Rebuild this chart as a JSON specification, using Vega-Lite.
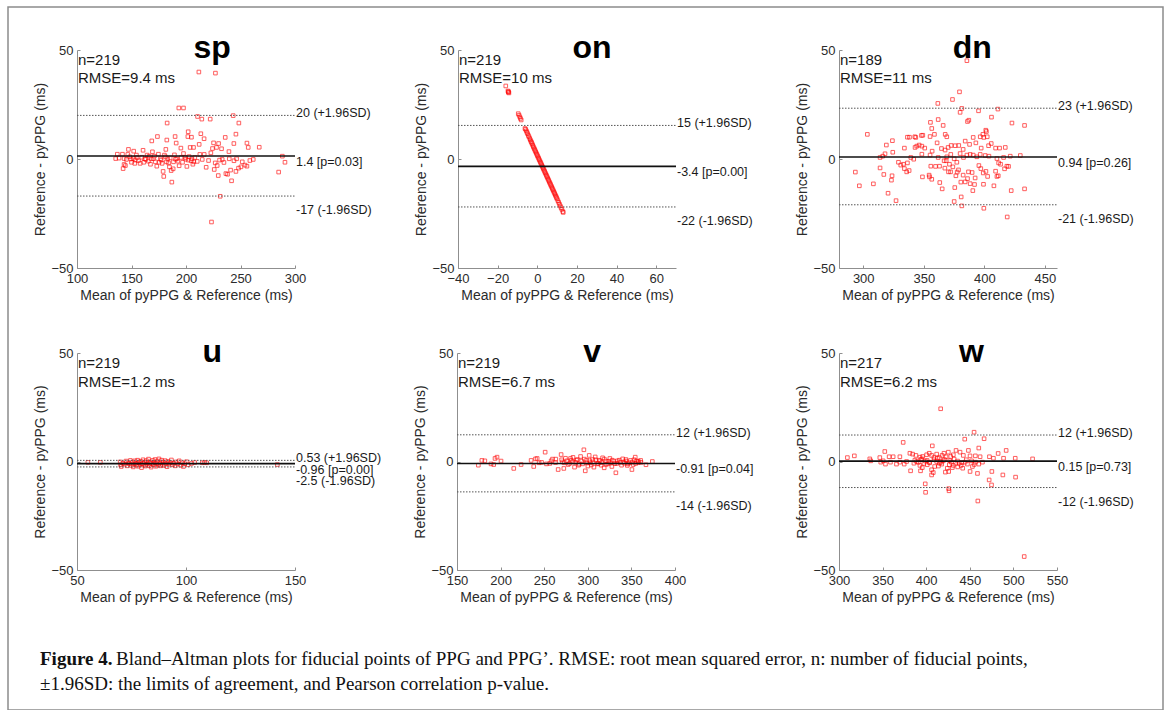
{
"$schema": "https://vega.github.io/schema/vega-lite/v6.json",
"width": 1155, "height": 703, "autosize": "none",
"padding": {"left": 8, "top": 7, "right": 4, "bottom": 0},
"background": "white",
"config": {
 "view": {"stroke": "#8c8c8c", "strokeWidth": 1.5},
 "font": "Liberation Sans",
 "axis": {"grid": false, "domainColor": "#8f8f8f", "domainWidth": 1, "tickColor": "#8f8f8f", "tickSize": -3, "labelPadding": 7, "labelFontSize": 13, "labelColor": "#2b2b2b", "titleFontSize": 14, "titleFontWeight": "normal", "titleColor": "#2b2b2b", "labelOverlap": false, "labelFlush": false, "titlePadding": 3},
 "text": {"color": "#1a1a1a"}
},
"datasets": {
 "sp_pts": [{"m":211.8,"d":39.9},{"m":227,"d":39.4},{"m":193.4,"d":23.4},{"m":197.7,"d":23.4},{"m":210.6,"d":19.5},{"m":214.5,"d":18.3},{"m":222.2,"d":18.3},{"m":243.3,"d":19.9},{"m":248.5,"d":16.5},{"m":182.7,"d":16.5},{"m":202,"d":12.5},{"m":213.6,"d":11.6},{"m":245.8,"d":11.4},{"m":190,"d":10.3},{"m":173.8,"d":10.3},{"m":201.7,"d":10.3},{"m":205,"d":10},{"m":216.6,"d":9.3},{"m":236,"d":9.9},{"m":182.4,"d":8.7},{"m":168.6,"d":8.3},{"m":225.3,"d":7.4},{"m":229.9,"d":7.1},{"m":255.9,"d":7.3},{"m":257.1,"d":5.3},{"m":267.2,"d":5.4},{"m":243.9,"d":7.1},{"m":203.8,"d":5.3},{"m":206.9,"d":5.3},{"m":212.1,"d":6.7},{"m":228,"d":5.3},{"m":232.6,"d":4.7},{"m":239.4,"d":3.4},{"m":224.3,"d":4.8},{"m":195.3,"d":5},{"m":191,"d":7.3},{"m":135.5,"d":0.2},{"m":137,"d":2.2},{"m":141.7,"d":2.2},{"m":147.2,"d":4.4},{"m":152,"d":3.6},{"m":143.2,"d":0.2},{"m":143.2,"d":-2.5},{"m":142.3,"d":-4.4},{"m":144.4,"d":-3},{"m":148.4,"d":1},{"m":150,"d":-1.5},{"m":151.5,"d":0.2},{"m":153,"d":-2},{"m":154.5,"d":1.8},{"m":156.4,"d":-0.8},{"m":157.9,"d":-2},{"m":159.4,"d":0.8},{"m":160.6,"d":4},{"m":162.2,"d":0.1},{"m":164.3,"d":1.8},{"m":165.5,"d":-1},{"m":167.4,"d":-2.4},{"m":169.2,"d":3.3},{"m":170.1,"d":0.2},{"m":171.9,"d":-1.3},{"m":173.2,"d":-3.3},{"m":174.7,"d":2.2},{"m":176.6,"d":0.1},{"m":178.1,"d":-2},{"m":179,"d":-5.7},{"m":179.6,"d":-8},{"m":180.2,"d":1.8},{"m":181.5,"d":4.4},{"m":182.1,"d":-1.3},{"m":183.3,"d":0.1},{"m":184.8,"d":-3.6},{"m":186.4,"d":-5.3},{"m":187,"d":-10.6},{"m":188.2,"d":-4.5},{"m":189.4,"d":1.9},{"m":190.4,"d":-0.1},{"m":192.5,"d":-1},{"m":193.7,"d":-3.1},{"m":195.6,"d":0.7},{"m":197.7,"d":2.5},{"m":199.8,"d":-0.1},{"m":200.8,"d":-3.4},{"m":202.9,"d":1.1},{"m":204.7,"d":-0.8},{"m":206.3,"d":-2.4},{"m":208.1,"d":0.7},{"m":210.3,"d":-1.1},{"m":212.7,"d":2.1},{"m":214.9,"d":-0.2},{"m":216.7,"d":2.1},{"m":218.5,"d":-3.8},{"m":220.7,"d":-0.7},{"m":222.8,"d":2.8},{"m":225.9,"d":-4.8},{"m":226.8,"d":-1.8},{"m":228.6,"d":-3},{"m":229.6,"d":-7.6},{"m":230.8,"d":-0.5},{"m":231.4,"d":-17.1},{"m":223.4,"d":-28.9},{"m":233.2,"d":-0.2},{"m":234.8,"d":-1.6},{"m":236.6,"d":-6.7},{"m":238.1,"d":-7},{"m":239.7,"d":0.1},{"m":240.9,"d":-5.1},{"m":241.8,"d":-10},{"m":244,"d":-0.8},{"m":245.8,"d":-5.7},{"m":246.4,"d":0.1},{"m":248.2,"d":-4.2},{"m":250.4,"d":-3.6},{"m":251.6,"d":-1.3},{"m":254.1,"d":-2.8},{"m":255.9,"d":-3.3},{"m":258.6,"d":-0.7},{"m":261.7,"d":-0.2},{"m":285,"d":-6},{"m":288.4,"d":1.3},{"m":290.8,"d":-1.5},{"m":138.6,"d":0.4},{"m":145.3,"d":-0.2},{"m":146.6,"d":2.1},{"m":149.3,"d":0},{"m":153.5,"d":-0.5},{"m":155.1,"d":0.7},{"m":161.3,"d":-1.5},{"m":163.1,"d":-0.2},{"m":166.2,"d":1.3},{"m":168,"d":0.1},{"m":171,"d":1.3},{"m":175.3,"d":-1.5},{"m":177.2,"d":-0.5},{"m":181.2,"d":1},{"m":184,"d":-1.8},{"m":185.5,"d":0.5},{"m":188.5,"d":-1.3},{"m":191.6,"d":0.1},{"m":196.8,"d":-1.5},{"m":199.2,"d":0.7},{"m":202,"d":-0.5},{"m":205.4,"d":0.1},{"m":207.2,"d":-1.3}],
 "sp_lines": [{"y":20,"kind":"upper","label":"20 (+1.96SD)"},{"y":1.4,"kind":"mean","label":"1.4 [p=0.03]"},{"y":-17,"kind":"lower","label":"-17 (-1.96SD)"}],
 "sp_info": [{"title":"sp","stats":"n=219\nRMSE=9.4 ms"}],
 "on_pts": [{"m":-15.9,"d":33.5},{"m":-14.8,"d":31.2},{"m":-14.6,"d":30.6},{"m":-14.5,"d":30.9},{"m":-14.3,"d":30.3},{"m":-9.6,"d":20.8},{"m":-9.2,"d":20.1},{"m":-8.8,"d":19.3},{"m":-8.5,"d":18.6},{"m":-8.1,"d":17.9},{"m":-6.2,"d":14},{"m":-5.9,"d":13.6},{"m":-5.5,"d":12.9},{"m":-5.2,"d":12.2},{"m":-4.9,"d":11.6},{"m":-4.5,"d":10.8},{"m":-4.2,"d":10.2},{"m":-3.8,"d":9.4},{"m":-3.5,"d":8.8},{"m":-3.2,"d":8.1},{"m":-2.9,"d":7.6},{"m":-2.6,"d":7},{"m":-2.3,"d":6.3},{"m":-2,"d":5.7},{"m":-1.7,"d":5.1},{"m":-1.4,"d":4.5},{"m":-1.1,"d":3.9},{"m":-0.8,"d":3.3},{"m":-0.5,"d":2.7},{"m":-0.2,"d":2.1},{"m":0.1,"d":1.5},{"m":0.4,"d":0.9},{"m":0.7,"d":0.3},{"m":1,"d":-0.3},{"m":1.3,"d":-0.9},{"m":1.6,"d":-1.5},{"m":1.9,"d":-2.1},{"m":2.2,"d":-2.7},{"m":2.5,"d":-3.3},{"m":2.8,"d":-3.9},{"m":3.1,"d":-4.5},{"m":3.4,"d":-5.1},{"m":3.7,"d":-5.7},{"m":4,"d":-6.3},{"m":4.3,"d":-6.9},{"m":4.6,"d":-7.5},{"m":4.9,"d":-8.1},{"m":5.2,"d":-8.7},{"m":5.5,"d":-9.3},{"m":5.8,"d":-9.9},{"m":6.1,"d":-10.5},{"m":6.4,"d":-11.1},{"m":6.7,"d":-11.7},{"m":7,"d":-12.3},{"m":7.3,"d":-12.9},{"m":7.6,"d":-13.5},{"m":7.9,"d":-14.1},{"m":8.2,"d":-14.7},{"m":8.5,"d":-15.3},{"m":8.8,"d":-15.9},{"m":9.1,"d":-16.5},{"m":9.4,"d":-17.1},{"m":9.7,"d":-17.7},{"m":10,"d":-18.3},{"m":10.4,"d":-19.1},{"m":10.8,"d":-19.9},{"m":11.2,"d":-20.7},{"m":11.6,"d":-21.5},{"m":12,"d":-22.3},{"m":12.4,"d":-23.1},{"m":12.9,"d":-24.1},{"m":13.1,"d":-24.5}],
 "on_lines": [{"y":15.4,"kind":"upper","label":"15 (+1.96SD)"},{"y":-3.4,"kind":"mean","label":"-3.4 [p=0.00]"},{"y":-22,"kind":"lower","label":"-22 (-1.96SD)"}],
 "on_info": [{"title":"on","stats":"n=219\nRMSE=10 ms"}],
 "dn_pts": [{"m":385.6,"d":45.1},{"m":379.5,"d":30.8},{"m":373.7,"d":27.3},{"m":361.6,"d":25.5},{"m":381.4,"d":23.2},{"m":380,"d":21.4},{"m":395.2,"d":22.1},{"m":411.2,"d":22.9},{"m":405.9,"d":19.2},{"m":387.2,"d":17.8},{"m":386.1,"d":17.2},{"m":361.9,"d":18.1},{"m":355.5,"d":16.8},{"m":422.8,"d":16.5},{"m":433.2,"d":15.4},{"m":366,"d":15.4},{"m":356.6,"d":14},{"m":401.2,"d":13.2},{"m":401.7,"d":12.6},{"m":303.4,"d":11.3},{"m":336.5,"d":10},{"m":338.2,"d":10},{"m":342.6,"d":10.2},{"m":343.4,"d":9.9},{"m":348.1,"d":10.8},{"m":349.2,"d":10.9},{"m":355.2,"d":10.3},{"m":358.8,"d":11.3},{"m":367.7,"d":11.3},{"m":369,"d":10.2},{"m":390.8,"d":9.9},{"m":396.6,"d":10.2},{"m":398.8,"d":11.3},{"m":402.4,"d":10.2},{"m":319.1,"d":6.4},{"m":324.1,"d":8.4},{"m":334,"d":5},{"m":342.8,"d":5.3},{"m":344.2,"d":5.9},{"m":346.2,"d":6.4},{"m":348.4,"d":5.9},{"m":350.8,"d":5},{"m":361,"d":7.4},{"m":356.9,"d":3.6},{"m":364.6,"d":4.8},{"m":367.6,"d":4.1},{"m":370.1,"d":5.3},{"m":372.6,"d":6.2},{"m":375.9,"d":6.1},{"m":378.9,"d":6.2},{"m":382.5,"d":4.4},{"m":384.2,"d":8.2},{"m":387.8,"d":6.7},{"m":393,"d":7.4},{"m":397.4,"d":5},{"m":399.6,"d":9.9},{"m":403.5,"d":6.1},{"m":405.7,"d":7.1},{"m":409.3,"d":5},{"m":412.6,"d":5},{"m":417.3,"d":5.3},{"m":324.4,"d":3.1},{"m":318,"d":2.4},{"m":313.9,"d":0.7},{"m":316.1,"d":1.3},{"m":339.3,"d":0.7},{"m":348.4,"d":2.2},{"m":355.2,"d":1.8},{"m":361.9,"d":0.7},{"m":366.8,"d":-0.8},{"m":369,"d":1},{"m":372.3,"d":2.1},{"m":375.1,"d":0.1},{"m":377.3,"d":-1.5},{"m":380,"d":2.5},{"m":382.8,"d":0.7},{"m":385.6,"d":1.8},{"m":388.3,"d":2.1},{"m":390.8,"d":1.8},{"m":393.8,"d":1},{"m":396.6,"d":2.1},{"m":400.7,"d":1.6},{"m":403.8,"d":1.3},{"m":410.4,"d":0.2},{"m":415.9,"d":0.7},{"m":421.4,"d":1.3},{"m":429.7,"d":1.6},{"m":411.8,"d":-1.8},{"m":420,"d":-3.4},{"m":416.7,"d":-4.5},{"m":313.9,"d":-4.1},{"m":317,"d":-7.1},{"m":329.1,"d":-1.5},{"m":331,"d":-2.8},{"m":333.2,"d":-2.4},{"m":334,"d":-4.4},{"m":335.9,"d":-5.9},{"m":337.9,"d":-5.3},{"m":323.8,"d":-7.7},{"m":323.3,"d":-9.7},{"m":308.4,"d":-11.4},{"m":296.8,"d":-12.3},{"m":293.5,"d":-6},{"m":320.5,"d":-15.7},{"m":327.1,"d":-19.1},{"m":348.9,"d":-8.2},{"m":354.4,"d":-7.4},{"m":354.7,"d":-8.2},{"m":355.8,"d":-3.3},{"m":359.7,"d":-3.4},{"m":363,"d":-3.3},{"m":363.2,"d":-10.8},{"m":365.2,"d":-13.7},{"m":368.5,"d":-0.8},{"m":371.2,"d":-2.4},{"m":372.1,"d":-5.9},{"m":374,"d":-3.6},{"m":375.6,"d":-13.1},{"m":376.5,"d":-7.7},{"m":377.6,"d":-6},{"m":378.7,"d":-5},{"m":380.6,"d":-10.6},{"m":380.9,"d":-17.4},{"m":381.4,"d":-21.5},{"m":382.5,"d":-7.4},{"m":384.2,"d":-10.5},{"m":386.1,"d":-9},{"m":386.9,"d":-5.9},{"m":388.3,"d":-11.3},{"m":389.9,"d":-6.2},{"m":390.5,"d":-14.5},{"m":391.9,"d":-11.7},{"m":392.4,"d":-8.7},{"m":395.5,"d":-3},{"m":397.1,"d":-4.4},{"m":399.1,"d":-6.4},{"m":399.3,"d":-11.6},{"m":399.6,"d":-22.6},{"m":401.3,"d":-5.7},{"m":402.7,"d":-8},{"m":407.9,"d":-12.3},{"m":409.3,"d":-5.6},{"m":410.4,"d":-8},{"m":411.5,"d":-7.7},{"m":413.4,"d":-2.4},{"m":418.6,"d":-3.3},{"m":418.9,"d":-26.6},{"m":422.2,"d":-14.5},{"m":433.2,"d":-13.7},{"m":367.4,"d":-4.2},{"m":370.4,"d":-5.9},{"m":356.6,"d":-9.3},{"m":375.1,"d":-19.5},{"m":341.7,"d":-0.1},{"m":336.5,"d":-1.8}],
 "dn_lines": [{"y":23.3,"kind":"upper","label":"23 (+1.96SD)"},{"y":0.94,"kind":"mean","label":"0.94 [p=0.26]"},{"y":-21,"kind":"lower","label":"-21 (-1.96SD)"}],
 "dn_info": [{"title":"dn","stats":"n=189\nRMSE=11 ms"}],
 "u_pts": [{"m":55,"d":-0.4},{"m":60.7,"d":-0.4},{"m":69.8,"d":-0.2},{"m":70,"d":-1.5},{"m":70.3,"d":-2.3},{"m":71,"d":-0.8},{"m":72,"d":-1.2},{"m":72.5,"d":0.2},{"m":73,"d":-2},{"m":73.4,"d":-0.6},{"m":74,"d":-1},{"m":74.5,"d":0.5},{"m":75,"d":-1.8},{"m":75.3,"d":-0.3},{"m":75.8,"d":-2.5},{"m":76,"d":-1.2},{"m":76.5,"d":0.3},{"m":77,"d":-0.8},{"m":77.3,"d":-1.6},{"m":77.8,"d":0.6},{"m":78,"d":-2.2},{"m":78.4,"d":-0.5},{"m":78.9,"d":-1.3},{"m":79.2,"d":0.1},{"m":79.6,"d":-2.8},{"m":80,"d":-1},{"m":80.3,"d":0.8},{"m":80.7,"d":-1.7},{"m":81,"d":-0.3},{"m":81.4,"d":-2.1},{"m":81.8,"d":0.4},{"m":82,"d":-1.2},{"m":82.5,"d":-0.6},{"m":82.8,"d":1.1},{"m":83.2,"d":-1.9},{"m":83.5,"d":-0.2},{"m":84,"d":-2.6},{"m":84.3,"d":-0.9},{"m":84.7,"d":0.5},{"m":85,"d":-1.5},{"m":85.4,"d":-0.4},{"m":85.8,"d":0.9},{"m":86.2,"d":-2.2},{"m":86.5,"d":-1},{"m":86.9,"d":0.2},{"m":87.3,"d":-1.6},{"m":87.6,"d":1.2},{"m":88,"d":-0.7},{"m":88.4,"d":-2},{"m":88.8,"d":0.6},{"m":89.1,"d":-1.3},{"m":89.5,"d":-0.3},{"m":90,"d":-1.8},{"m":90.4,"d":0.4},{"m":90.8,"d":-0.9},{"m":91.3,"d":-2.4},{"m":91.7,"d":0},{"m":92.2,"d":-1.2},{"m":92.8,"d":-0.5},{"m":93.3,"d":0.7},{"m":93.8,"d":-1.5},{"m":94.4,"d":-0.8},{"m":95,"d":-2},{"m":95.5,"d":-0.2},{"m":96.2,"d":-1.1},{"m":96.9,"d":0.3},{"m":97.5,"d":-1.7},{"m":98.2,"d":-0.6},{"m":98.8,"d":-2.3},{"m":99.4,"d":-1},{"m":100.2,"d":-0.1},{"m":101,"d":-1.5},{"m":102.5,"d":-0.9},{"m":104,"d":-0.5},{"m":107.5,"d":-0.6},{"m":108.5,"d":-0.4},{"m":109.5,"d":-0.6},{"m":141.9,"d":-1.4}],
 "u_lines": [{"y":0.53,"kind":"upper","label":"0.53 (+1.96SD)"},{"y":-0.96,"kind":"mean","label":"-0.96 [p=0.00]"},{"y":-2.5,"kind":"lower","label":"-2.5 (-1.96SD)"}],
 "u_info": [{"title":"u","stats":"n=219\nRMSE=1.2 ms"}],
 "v_pts": [{"m":174.5,"d":-1.7},{"m":178.5,"d":0.5},{"m":181.9,"d":0.3},{"m":189,"d":-1.1},{"m":192.1,"d":-1.4},{"m":193.6,"d":1.4},{"m":195.9,"d":2},{"m":200.5,"d":0.2},{"m":215.1,"d":-3.2},{"m":223.5,"d":-1.4},{"m":235,"d":0.5},{"m":238,"d":-2.3},{"m":240,"d":1.2},{"m":241.9,"d":1.4},{"m":244.2,"d":-0.6},{"m":251.1,"d":4.3},{"m":252.6,"d":-1.1},{"m":256.4,"d":-0.9},{"m":259.5,"d":1.1},{"m":263.3,"d":1.1},{"m":266,"d":-3.7},{"m":269.4,"d":3.2},{"m":271,"d":-0.2},{"m":272.5,"d":-3.2},{"m":274.4,"d":1.5},{"m":277.5,"d":-1.4},{"m":280.2,"d":1.4},{"m":282.5,"d":-0.2},{"m":284.8,"d":-2.6},{"m":287.1,"d":0.6},{"m":289.4,"d":-1.7},{"m":291.7,"d":2.3},{"m":294,"d":-1.1},{"m":295.5,"d":5.4},{"m":297.1,"d":-4.3},{"m":298.5,"d":0.6},{"m":300.1,"d":-2.1},{"m":301.6,"d":2.8},{"m":303.1,"d":-0.6},{"m":305.4,"d":0.9},{"m":307,"d":-2.6},{"m":308.5,"d":2.1},{"m":310.8,"d":-1.1},{"m":313.1,"d":0.6},{"m":315.4,"d":-1.7},{"m":317,"d":1.7},{"m":318.8,"d":-2.9},{"m":320.8,"d":0.2},{"m":323,"d":-1.1},{"m":325.3,"d":1.4},{"m":327.6,"d":-2.3},{"m":329.9,"d":0.2},{"m":332.2,"d":-5.2},{"m":333.4,"d":-0.9},{"m":336.1,"d":0.6},{"m":338.7,"d":-1.7},{"m":341.4,"d":-0.2},{"m":343.7,"d":0.9},{"m":345.3,"d":-1.8},{"m":347.5,"d":-0.6},{"m":350.6,"d":-3.7},{"m":352.1,"d":-1.4},{"m":354.4,"d":2},{"m":356,"d":0.2},{"m":357.9,"d":-0.5},{"m":360.6,"d":0.5},{"m":366.7,"d":-1.5},{"m":374,"d":0},{"m":270,"d":0.8},{"m":273,"d":-0.6},{"m":276,"d":0.3},{"m":279,"d":-0.9},{"m":281,"d":0.5},{"m":283,"d":1.9},{"m":286,"d":-0.4},{"m":288,"d":0.9},{"m":290,"d":-1.2},{"m":293,"d":0.2},{"m":296,"d":1.1},{"m":299,"d":-0.7},{"m":302,"d":0.4},{"m":304,"d":-1.6},{"m":306,"d":-0.2},{"m":309,"d":0.8},{"m":312,"d":-0.9},{"m":314,"d":0.3},{"m":316,"d":-0.5},{"m":319,"d":1.1},{"m":321,"d":-1.3},{"m":324,"d":0.1},{"m":326,"d":-0.7},{"m":328,"d":0.6},{"m":331,"d":-1},{"m":334,"d":0.3},{"m":337,"d":-0.4},{"m":340,"d":1.2},{"m":342,"d":-0.8},{"m":344,"d":0.2},{"m":346,"d":-1.1},{"m":349,"d":0.5},{"m":351,"d":-0.3},{"m":353,"d":0.8},{"m":355,"d":-0.9},{"m":358,"d":0.1},{"m":361,"d":-0.4},{"m":263,"d":-0.5},{"m":258,"d":0.3},{"m":247,"d":-0.4}],
 "v_lines": [{"y":12.3,"kind":"upper","label":"12 (+1.96SD)"},{"y":-0.91,"kind":"mean","label":"-0.91 [p=0.04]"},{"y":-14,"kind":"lower","label":"-14 (-1.96SD)"}],
 "v_info": [{"title":"v","stats":"n=219\nRMSE=6.7 ms"}],
 "w_pts": [{"m":416.6,"d":24.3},{"m":454.9,"d":13.5},{"m":444.2,"d":10.3},{"m":466.4,"d":10.5},{"m":373.6,"d":8.8},{"m":407,"d":7.2},{"m":460.3,"d":6.2},{"m":491.7,"d":5.1},{"m":482.5,"d":3.7},{"m":352.5,"d":4.6},{"m":434.2,"d":5.1},{"m":448.4,"d":5.1},{"m":309.6,"d":1.8},{"m":317.6,"d":2.6},{"m":335.3,"d":1.2},{"m":346.8,"d":1.8},{"m":350.6,"d":0.3},{"m":357.5,"d":2.2},{"m":362.1,"d":2.2},{"m":369.8,"d":2.2},{"m":381.3,"d":3.8},{"m":384.4,"d":3.4},{"m":388.2,"d":2.8},{"m":392.8,"d":2},{"m":395.9,"d":2.3},{"m":400.5,"d":3.1},{"m":403.5,"d":3.8},{"m":406.2,"d":2.8},{"m":408.9,"d":1.8},{"m":412,"d":3.4},{"m":415.1,"d":1.8},{"m":418.2,"d":2.8},{"m":420.4,"d":3.8},{"m":422.7,"d":2.2},{"m":425.4,"d":4.3},{"m":428.1,"d":2.3},{"m":431.1,"d":3.1},{"m":438.8,"d":4.3},{"m":442.6,"d":2.8},{"m":450.3,"d":2.6},{"m":456.4,"d":2.6},{"m":461.8,"d":2.2},{"m":472.5,"d":2.2},{"m":477.1,"d":1.5},{"m":488.7,"d":1.5},{"m":502.1,"d":1.5},{"m":522,"d":1.2},{"m":336.4,"d":0.3},{"m":347.9,"d":-0.3},{"m":353.3,"d":-1.2},{"m":359,"d":-0.3},{"m":365.9,"d":-1.2},{"m":369.8,"d":-0.3},{"m":374.8,"d":-1.2},{"m":377.5,"d":0},{"m":382.1,"d":-4.3},{"m":385.9,"d":-0.8},{"m":389,"d":0},{"m":392.8,"d":-1.8},{"m":395.5,"d":-2.8},{"m":397.4,"d":-0.9},{"m":401.2,"d":-1.5},{"m":403.5,"d":-0.3},{"m":406.2,"d":-3.8},{"m":408.1,"d":-5.1},{"m":409.7,"d":-2.3},{"m":412,"d":0},{"m":415.1,"d":-0.8},{"m":417.8,"d":-1.2},{"m":419.6,"d":0.3},{"m":422,"d":-4.9},{"m":424.2,"d":-3.1},{"m":425.8,"d":-4.6},{"m":426.5,"d":-1.5},{"m":428.8,"d":-0.3},{"m":431.1,"d":-1.8},{"m":433.8,"d":-0.8},{"m":436.1,"d":-2.5},{"m":438,"d":-0.8},{"m":440,"d":-1.8},{"m":441.9,"d":-3.1},{"m":444.6,"d":-0.3},{"m":447.3,"d":-1.2},{"m":450.3,"d":-4.6},{"m":453,"d":-2.3},{"m":456.4,"d":-0.3},{"m":458.8,"d":-5.5},{"m":460.3,"d":-1.2},{"m":464.5,"d":-0.3},{"m":475.3,"d":-4.6},{"m":474.9,"d":-10.8},{"m":472.2,"d":-8.5},{"m":487.9,"d":-6.2},{"m":502.5,"d":-7.2},{"m":398.9,"d":-10.3},{"m":393.5,"d":-4.3},{"m":399.3,"d":-14.2},{"m":425.8,"d":-12.5},{"m":426.2,"d":-13.5},{"m":459.2,"d":-18.2},{"m":512.4,"d":-43.8},{"m":406.2,"d":-6.2},{"m":387,"d":0.6},{"m":391,"d":-0.4},{"m":394,"d":0.9},{"m":399,"d":0.2},{"m":404,"d":-0.6},{"m":409,"d":0.8},{"m":413,"d":1.5},{"m":417,"d":-0.3},{"m":421,"d":0.9},{"m":427,"d":0.4},{"m":432,"d":1.1},{"m":436,"d":0.2},{"m":441,"d":-0.5},{"m":446,"d":0.8},{"m":452,"d":0.3},{"m":455,"d":-1.4},{"m":395,"d":1.2},{"m":401,"d":0.5},{"m":414,"d":-2.1},{"m":430,"d":-2.8}],
 "w_lines": [{"y":12.2,"kind":"upper","label":"12 (+1.96SD)"},{"y":0.15,"kind":"mean","label":"0.15 [p=0.73]"},{"y":-12,"kind":"lower","label":"-12 (-1.96SD)"}],
 "w_info": [{"title":"w","stats":"n=217\nRMSE=6.2 ms"}],
 "caption": [{"part":"head","text":"Figure 4."},{"part":"line1","text":"Bland–Altman plots for fiducial points of PPG and PPG’. RMSE: root mean squared error, n: number of fiducial points,"},{"part":"line2","text":"±1.96SD: the limits of agreement, and Pearson correlation p-value."}]
},
"resolve": {"scale": {"x": "independent", "y": "independent"}, "axis": {"x": "independent", "y": "independent"}},
"layer": [
 {"layer": [
  {"data": {"name": "sp_pts"}, "mark": {"type": "point", "shape": "square", "filled": false, "size": 13, "color": "#ff0000", "strokeWidth": 0.9},
   "encoding": {"x": {"field": "m", "type": "quantitative", "scale": {"domain": [100, 300], "range": [69, 287], "nice": false, "zero": false}, "axis": {"orient": "bottom", "offset": -442, "values": [100, 150, 200, 250, 300], "title": "Mean of pyPPG & Reference (ms)"}},
    "y": {"field": "d", "type": "quantitative", "scale": {"domain": [-50, 50], "range": [261, 43], "nice": false, "zero": false}, "axis": {"orient": "left", "offset": -69, "values": [-50, 0, 50], "title": "Reference - pyPPG (ms)"}}}},
  {"data": {"name": "sp_lines"}, "transform": [{"filter": "datum.kind !== 'mean'"}], "mark": {"type": "rule", "color": "#555555", "strokeWidth": 1, "strokeDash": [1.5, 1.5]}, "encoding": {"x": {"datum": 100, "type": "quantitative"}, "x2": {"datum": 300}, "y": {"field": "y", "type": "quantitative"}}},
  {"data": {"name": "sp_lines"}, "transform": [{"filter": "datum.kind === 'mean'"}], "mark": {"type": "rule", "color": "#111111", "strokeWidth": 1.6}, "encoding": {"x": {"datum": 100, "type": "quantitative"}, "x2": {"datum": 300}, "y": {"field": "y", "type": "quantitative"}}},
  {"data": {"name": "sp_lines"}, "transform": [{"filter": "datum.kind === 'upper'"}], "mark": {"type": "text", "align": "left", "dx": 1, "dy": -2, "fontSize": 12.5}, "encoding": {"x": {"datum": 300, "type": "quantitative"}, "y": {"field": "y", "type": "quantitative"}, "text": {"field": "label"}}},
  {"data": {"name": "sp_lines"}, "transform": [{"filter": "datum.kind === 'mean'"}], "mark": {"type": "text", "align": "left", "dx": 1, "dy": 6, "fontSize": 12.5}, "encoding": {"x": {"datum": 300, "type": "quantitative"}, "y": {"field": "y", "type": "quantitative"}, "text": {"field": "label"}}},
  {"data": {"name": "sp_lines"}, "transform": [{"filter": "datum.kind === 'lower'"}], "mark": {"type": "text", "align": "left", "dx": 1, "dy": 14, "fontSize": 12.5}, "encoding": {"x": {"datum": 300, "type": "quantitative"}, "y": {"field": "y", "type": "quantitative"}, "text": {"field": "label"}}},
  {"data": {"name": "sp_info"}, "mark": {"type": "text", "align": "left", "baseline": "alphabetic", "dx": 1, "dy": 15, "fontSize": 15, "lineBreak": "\n", "lineHeight": 18}, "encoding": {"x": {"datum": 100, "type": "quantitative"}, "y": {"datum": 50, "type": "quantitative"}, "text": {"field": "stats"}}},
  {"data": {"name": "sp_info"}, "mark": {"type": "text", "align": "center", "baseline": "alphabetic", "dy": 8, "fontSize": 32, "fontWeight": "bold", "color": "#000000"}, "encoding": {"x": {"datum": 224, "type": "quantitative"}, "y": {"datum": 50, "type": "quantitative"}, "text": {"field": "title"}}}
 ]},
 {"layer": [
  {"data": {"name": "on_pts"}, "mark": {"type": "point", "shape": "square", "filled": false, "size": 13, "color": "#ff0000", "strokeWidth": 0.9},
   "encoding": {"x": {"field": "m", "type": "quantitative", "scale": {"domain": [-40, 70], "range": [450, 668], "nice": false, "zero": false}, "axis": {"orient": "bottom", "offset": -442, "values": [-40, -20, 0, 20, 40, 60], "title": "Mean of pyPPG & Reference (ms)"}},
    "y": {"field": "d", "type": "quantitative", "scale": {"domain": [-50, 50], "range": [261, 43], "nice": false, "zero": false}, "axis": {"orient": "left", "offset": -450, "values": [-50, 0, 50], "title": "Reference - pyPPG (ms)"}}}},
  {"data": {"name": "on_lines"}, "transform": [{"filter": "datum.kind !== 'mean'"}], "mark": {"type": "rule", "color": "#555555", "strokeWidth": 1, "strokeDash": [1.5, 1.5]}, "encoding": {"x": {"datum": -40, "type": "quantitative"}, "x2": {"datum": 70}, "y": {"field": "y", "type": "quantitative"}}},
  {"data": {"name": "on_lines"}, "transform": [{"filter": "datum.kind === 'mean'"}], "mark": {"type": "rule", "color": "#111111", "strokeWidth": 1.6}, "encoding": {"x": {"datum": -40, "type": "quantitative"}, "x2": {"datum": 70}, "y": {"field": "y", "type": "quantitative"}}},
  {"data": {"name": "on_lines"}, "transform": [{"filter": "datum.kind === 'upper'"}], "mark": {"type": "text", "align": "left", "dx": 1, "dy": -2, "fontSize": 12.5}, "encoding": {"x": {"datum": 70, "type": "quantitative"}, "y": {"field": "y", "type": "quantitative"}, "text": {"field": "label"}}},
  {"data": {"name": "on_lines"}, "transform": [{"filter": "datum.kind === 'mean'"}], "mark": {"type": "text", "align": "left", "dx": 1, "dy": 6, "fontSize": 12.5}, "encoding": {"x": {"datum": 70, "type": "quantitative"}, "y": {"field": "y", "type": "quantitative"}, "text": {"field": "label"}}},
  {"data": {"name": "on_lines"}, "transform": [{"filter": "datum.kind === 'lower'"}], "mark": {"type": "text", "align": "left", "dx": 1, "dy": 14, "fontSize": 12.5}, "encoding": {"x": {"datum": 70, "type": "quantitative"}, "y": {"field": "y", "type": "quantitative"}, "text": {"field": "label"}}},
  {"data": {"name": "on_info"}, "mark": {"type": "text", "align": "left", "baseline": "alphabetic", "dx": 1, "dy": 15, "fontSize": 15, "lineBreak": "\n", "lineHeight": 18}, "encoding": {"x": {"datum": -40, "type": "quantitative"}, "y": {"datum": 50, "type": "quantitative"}, "text": {"field": "stats"}}},
  {"data": {"name": "on_info"}, "mark": {"type": "text", "align": "center", "baseline": "alphabetic", "dy": 8, "fontSize": 32, "fontWeight": "bold", "color": "#000000"}, "encoding": {"x": {"datum": 27.6, "type": "quantitative"}, "y": {"datum": 50, "type": "quantitative"}, "text": {"field": "title"}}}
 ]},
 {"layer": [
  {"data": {"name": "dn_pts"}, "mark": {"type": "point", "shape": "square", "filled": false, "size": 13, "color": "#ff0000", "strokeWidth": 0.9},
   "encoding": {"x": {"field": "m", "type": "quantitative", "scale": {"domain": [280, 460], "range": [831, 1049], "nice": false, "zero": false}, "axis": {"orient": "bottom", "offset": -442, "values": [300, 350, 400, 450], "title": "Mean of pyPPG & Reference (ms)"}},
    "y": {"field": "d", "type": "quantitative", "scale": {"domain": [-50, 50], "range": [261, 43], "nice": false, "zero": false}, "axis": {"orient": "left", "offset": -831, "values": [-50, 0, 50], "title": "Reference - pyPPG (ms)"}}}},
  {"data": {"name": "dn_lines"}, "transform": [{"filter": "datum.kind !== 'mean'"}], "mark": {"type": "rule", "color": "#555555", "strokeWidth": 1, "strokeDash": [1.5, 1.5]}, "encoding": {"x": {"datum": 280, "type": "quantitative"}, "x2": {"datum": 460}, "y": {"field": "y", "type": "quantitative"}}},
  {"data": {"name": "dn_lines"}, "transform": [{"filter": "datum.kind === 'mean'"}], "mark": {"type": "rule", "color": "#111111", "strokeWidth": 1.6}, "encoding": {"x": {"datum": 280, "type": "quantitative"}, "x2": {"datum": 460}, "y": {"field": "y", "type": "quantitative"}}},
  {"data": {"name": "dn_lines"}, "transform": [{"filter": "datum.kind === 'upper'"}], "mark": {"type": "text", "align": "left", "dx": 1, "dy": -2, "fontSize": 12.5}, "encoding": {"x": {"datum": 460, "type": "quantitative"}, "y": {"field": "y", "type": "quantitative"}, "text": {"field": "label"}}},
  {"data": {"name": "dn_lines"}, "transform": [{"filter": "datum.kind === 'mean'"}], "mark": {"type": "text", "align": "left", "dx": 1, "dy": 6, "fontSize": 12.5}, "encoding": {"x": {"datum": 460, "type": "quantitative"}, "y": {"field": "y", "type": "quantitative"}, "text": {"field": "label"}}},
  {"data": {"name": "dn_lines"}, "transform": [{"filter": "datum.kind === 'lower'"}], "mark": {"type": "text", "align": "left", "dx": 1, "dy": 14, "fontSize": 12.5}, "encoding": {"x": {"datum": 460, "type": "quantitative"}, "y": {"field": "y", "type": "quantitative"}, "text": {"field": "label"}}},
  {"data": {"name": "dn_info"}, "mark": {"type": "text", "align": "left", "baseline": "alphabetic", "dx": 1, "dy": 15, "fontSize": 15, "lineBreak": "\n", "lineHeight": 18}, "encoding": {"x": {"datum": 280, "type": "quantitative"}, "y": {"datum": 50, "type": "quantitative"}, "text": {"field": "stats"}}},
  {"data": {"name": "dn_info"}, "mark": {"type": "text", "align": "center", "baseline": "alphabetic", "dy": 8, "fontSize": 32, "fontWeight": "bold", "color": "#000000"}, "encoding": {"x": {"datum": 390, "type": "quantitative"}, "y": {"datum": 50, "type": "quantitative"}, "text": {"field": "title"}}}
 ]},
 {"layer": [
  {"data": {"name": "u_pts"}, "mark": {"type": "point", "shape": "square", "filled": false, "size": 13, "color": "#ff0000", "strokeWidth": 0.9},
   "encoding": {"x": {"field": "m", "type": "quantitative", "scale": {"domain": [50, 150], "range": [69, 287], "nice": false, "zero": false}, "axis": {"orient": "bottom", "offset": -140, "values": [50, 100, 150], "title": "Mean of pyPPG & Reference (ms)"}},
    "y": {"field": "d", "type": "quantitative", "scale": {"domain": [-50, 50], "range": [563, 346], "nice": false, "zero": false}, "axis": {"orient": "left", "offset": -69, "values": [-50, 0, 50], "title": "Reference - pyPPG (ms)"}}}},
  {"data": {"name": "u_lines"}, "transform": [{"filter": "datum.kind !== 'mean'"}], "mark": {"type": "rule", "color": "#555555", "strokeWidth": 1, "strokeDash": [1.5, 1.5]}, "encoding": {"x": {"datum": 50, "type": "quantitative"}, "x2": {"datum": 150}, "y": {"field": "y", "type": "quantitative"}}},
  {"data": {"name": "u_lines"}, "transform": [{"filter": "datum.kind === 'mean'"}], "mark": {"type": "rule", "color": "#111111", "strokeWidth": 1.6}, "encoding": {"x": {"datum": 50, "type": "quantitative"}, "x2": {"datum": 150}, "y": {"field": "y", "type": "quantitative"}}},
  {"data": {"name": "u_lines"}, "transform": [{"filter": "datum.kind === 'upper'"}], "mark": {"type": "text", "align": "left", "dx": 1, "dy": -2, "fontSize": 12.5}, "encoding": {"x": {"datum": 150, "type": "quantitative"}, "y": {"field": "y", "type": "quantitative"}, "text": {"field": "label"}}},
  {"data": {"name": "u_lines"}, "transform": [{"filter": "datum.kind === 'mean'"}], "mark": {"type": "text", "align": "left", "dx": 1, "dy": 6, "fontSize": 12.5}, "encoding": {"x": {"datum": 150, "type": "quantitative"}, "y": {"field": "y", "type": "quantitative"}, "text": {"field": "label"}}},
  {"data": {"name": "u_lines"}, "transform": [{"filter": "datum.kind === 'lower'"}], "mark": {"type": "text", "align": "left", "dx": 1, "dy": 14, "fontSize": 12.5}, "encoding": {"x": {"datum": 150, "type": "quantitative"}, "y": {"field": "y", "type": "quantitative"}, "text": {"field": "label"}}},
  {"data": {"name": "u_info"}, "mark": {"type": "text", "align": "left", "baseline": "alphabetic", "dx": 1, "dy": 15, "fontSize": 15, "lineBreak": "\n", "lineHeight": 19}, "encoding": {"x": {"datum": 50, "type": "quantitative"}, "y": {"datum": 50, "type": "quantitative"}, "text": {"field": "stats"}}},
  {"data": {"name": "u_info"}, "mark": {"type": "text", "align": "center", "baseline": "alphabetic", "dy": 9, "fontSize": 32, "fontWeight": "bold", "color": "#000000"}, "encoding": {"x": {"datum": 112, "type": "quantitative"}, "y": {"datum": 50, "type": "quantitative"}, "text": {"field": "title"}}}
 ]},
 {"layer": [
  {"data": {"name": "v_pts"}, "mark": {"type": "point", "shape": "square", "filled": false, "size": 13, "color": "#ff0000", "strokeWidth": 0.9},
   "encoding": {"x": {"field": "m", "type": "quantitative", "scale": {"domain": [150, 400], "range": [449, 667], "nice": false, "zero": false}, "axis": {"orient": "bottom", "offset": -140, "values": [150, 200, 250, 300, 350, 400], "title": "Mean of pyPPG & Reference (ms)"}},
    "y": {"field": "d", "type": "quantitative", "scale": {"domain": [-50, 50], "range": [563, 346], "nice": false, "zero": false}, "axis": {"orient": "left", "offset": -449, "values": [-50, 0, 50], "title": "Reference - pyPPG (ms)"}}}},
  {"data": {"name": "v_lines"}, "transform": [{"filter": "datum.kind !== 'mean'"}], "mark": {"type": "rule", "color": "#555555", "strokeWidth": 1, "strokeDash": [1.5, 1.5]}, "encoding": {"x": {"datum": 150, "type": "quantitative"}, "x2": {"datum": 400}, "y": {"field": "y", "type": "quantitative"}}},
  {"data": {"name": "v_lines"}, "transform": [{"filter": "datum.kind === 'mean'"}], "mark": {"type": "rule", "color": "#111111", "strokeWidth": 1.6}, "encoding": {"x": {"datum": 150, "type": "quantitative"}, "x2": {"datum": 400}, "y": {"field": "y", "type": "quantitative"}}},
  {"data": {"name": "v_lines"}, "transform": [{"filter": "datum.kind === 'upper'"}], "mark": {"type": "text", "align": "left", "dx": 1, "dy": -2, "fontSize": 12.5}, "encoding": {"x": {"datum": 400, "type": "quantitative"}, "y": {"field": "y", "type": "quantitative"}, "text": {"field": "label"}}},
  {"data": {"name": "v_lines"}, "transform": [{"filter": "datum.kind === 'mean'"}], "mark": {"type": "text", "align": "left", "dx": 1, "dy": 6, "fontSize": 12.5}, "encoding": {"x": {"datum": 400, "type": "quantitative"}, "y": {"field": "y", "type": "quantitative"}, "text": {"field": "label"}}},
  {"data": {"name": "v_lines"}, "transform": [{"filter": "datum.kind === 'lower'"}], "mark": {"type": "text", "align": "left", "dx": 1, "dy": 14, "fontSize": 12.5}, "encoding": {"x": {"datum": 400, "type": "quantitative"}, "y": {"field": "y", "type": "quantitative"}, "text": {"field": "label"}}},
  {"data": {"name": "v_info"}, "mark": {"type": "text", "align": "left", "baseline": "alphabetic", "dx": 1, "dy": 15, "fontSize": 15, "lineBreak": "\n", "lineHeight": 19}, "encoding": {"x": {"datum": 150, "type": "quantitative"}, "y": {"datum": 50, "type": "quantitative"}, "text": {"field": "stats"}}},
  {"data": {"name": "v_info"}, "mark": {"type": "text", "align": "center", "baseline": "alphabetic", "dy": 9, "fontSize": 32, "fontWeight": "bold", "color": "#000000"}, "encoding": {"x": {"datum": 305, "type": "quantitative"}, "y": {"datum": 50, "type": "quantitative"}, "text": {"field": "title"}}}
 ]},
 {"layer": [
  {"data": {"name": "w_pts"}, "mark": {"type": "point", "shape": "square", "filled": false, "size": 13, "color": "#ff0000", "strokeWidth": 0.9},
   "encoding": {"x": {"field": "m", "type": "quantitative", "scale": {"domain": [300, 550], "range": [831, 1049], "nice": false, "zero": false}, "axis": {"orient": "bottom", "offset": -140, "values": [300, 350, 400, 450, 500, 550], "title": "Mean of pyPPG & Reference (ms)"}},
    "y": {"field": "d", "type": "quantitative", "scale": {"domain": [-50, 50], "range": [563, 346], "nice": false, "zero": false}, "axis": {"orient": "left", "offset": -831, "values": [-50, 0, 50], "title": "Reference - pyPPG (ms)"}}}},
  {"data": {"name": "w_lines"}, "transform": [{"filter": "datum.kind !== 'mean'"}], "mark": {"type": "rule", "color": "#555555", "strokeWidth": 1, "strokeDash": [1.5, 1.5]}, "encoding": {"x": {"datum": 300, "type": "quantitative"}, "x2": {"datum": 550}, "y": {"field": "y", "type": "quantitative"}}},
  {"data": {"name": "w_lines"}, "transform": [{"filter": "datum.kind === 'mean'"}], "mark": {"type": "rule", "color": "#111111", "strokeWidth": 1.6}, "encoding": {"x": {"datum": 300, "type": "quantitative"}, "x2": {"datum": 550}, "y": {"field": "y", "type": "quantitative"}}},
  {"data": {"name": "w_lines"}, "transform": [{"filter": "datum.kind === 'upper'"}], "mark": {"type": "text", "align": "left", "dx": 1, "dy": -2, "fontSize": 12.5}, "encoding": {"x": {"datum": 550, "type": "quantitative"}, "y": {"field": "y", "type": "quantitative"}, "text": {"field": "label"}}},
  {"data": {"name": "w_lines"}, "transform": [{"filter": "datum.kind === 'mean'"}], "mark": {"type": "text", "align": "left", "dx": 1, "dy": 6, "fontSize": 12.5}, "encoding": {"x": {"datum": 550, "type": "quantitative"}, "y": {"field": "y", "type": "quantitative"}, "text": {"field": "label"}}},
  {"data": {"name": "w_lines"}, "transform": [{"filter": "datum.kind === 'lower'"}], "mark": {"type": "text", "align": "left", "dx": 1, "dy": 14, "fontSize": 12.5}, "encoding": {"x": {"datum": 550, "type": "quantitative"}, "y": {"field": "y", "type": "quantitative"}, "text": {"field": "label"}}},
  {"data": {"name": "w_info"}, "mark": {"type": "text", "align": "left", "baseline": "alphabetic", "dx": 1, "dy": 15, "fontSize": 15, "lineBreak": "\n", "lineHeight": 19}, "encoding": {"x": {"datum": 300, "type": "quantitative"}, "y": {"datum": 50, "type": "quantitative"}, "text": {"field": "stats"}}},
  {"data": {"name": "w_info"}, "mark": {"type": "text", "align": "center", "baseline": "alphabetic", "dy": 9, "fontSize": 32, "fontWeight": "bold", "color": "#000000"}, "encoding": {"x": {"datum": 452, "type": "quantitative"}, "y": {"datum": 50, "type": "quantitative"}, "text": {"field": "title"}}}
 ]},
 {"data": {"name": "caption"}, "transform": [{"filter": "datum.part === 'head'"}], "mark": {"type": "text", "font": "Liberation Serif", "fontSize": 19, "fontWeight": "bold", "align": "left", "baseline": "alphabetic", "color": "#111111"}, "encoding": {"x": {"value": 32}, "y": {"value": 658}, "text": {"field": "text"}}},
 {"data": {"name": "caption"}, "transform": [{"filter": "datum.part === 'line1'"}], "mark": {"type": "text", "font": "Liberation Serif", "fontSize": 19, "align": "left", "baseline": "alphabetic", "color": "#111111"}, "encoding": {"x": {"value": 108}, "y": {"value": 658}, "text": {"field": "text"}}},
 {"data": {"name": "caption"}, "transform": [{"filter": "datum.part === 'line2'"}], "mark": {"type": "text", "font": "Liberation Serif", "fontSize": 19, "align": "left", "baseline": "alphabetic", "color": "#111111"}, "encoding": {"x": {"value": 32}, "y": {"value": 683}, "text": {"field": "text"}}}
]
}
